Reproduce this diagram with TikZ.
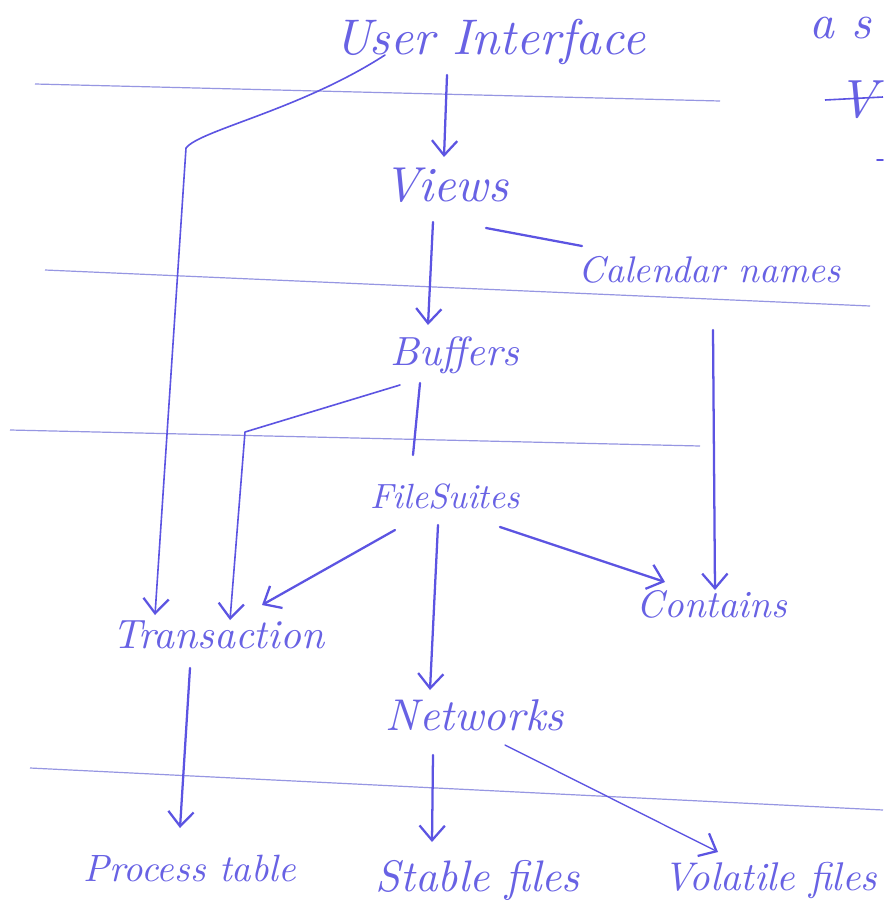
\documentclass[tikz,border=0pt]{standalone}
\usepackage{graphicx}
\usetikzlibrary{arrows.meta,calc}
\definecolor{pen}{RGB}{92,84,226}
\definecolor{ink}{RGB}{104,98,228}
\definecolor{rule}{RGB}{150,150,226}
\newlength\pxu
\setlength\pxu{0.75pt}
% handwritten-looking label, scaled to a given width
\newcommand\hw[2]{\resizebox{#1\pxu}{!}{\itshape #2}}
\tikzset{
  lbl/.style={inner sep=0pt, text=ink},
  link/.style={draw=pen, line width=1.7pt, line cap=round, line join=round},
  flow/.style={link, -{Straight Barb[length=11pt,width=19pt,line width=1.7pt]}},
  paperline/.style={draw=rule, line width=0.9pt},
}
\begin{document}
\begin{tikzpicture}[x=0.75pt,y=-0.75pt]
\useasboundingbox[fill=white] (0,0) rectangle (883,903);

% ruled lines of the sheet
\draw[paperline] (35,84) -- (720,101);
\draw[paperline] (45,270) -- (870,306);
\draw[paperline] (10,430) -- (700,446);
\draw[paperline] (30,768) -- (883,810);

% labels
\node[lbl] (ui)    at (490,42)  {\hw{310}{User Interface}};
\node[lbl] (views) at (446,185) {\hw{125}{Views}};
\node[lbl] (cal)   at (710,270) {\hw{262}{Calendar names}};
\node[lbl] (buf)   at (455,355) {\hw{128}{Buffers}};
\node[lbl] (fs)    at (445,497) {\hw{150}{FileSuites}};
\node[lbl] (trans) at (218,635) {\hw{212}{Transaction}};
\node[lbl] (cont)  at (712,604) {\hw{150}{Contains}};
\node[lbl] (net)   at (475,715) {\hw{178}{Networks}};
\node[lbl] (proc)  at (190,868) {\hw{212}{Process table}};
\node[lbl] (stab)  at (478,880) {\hw{204}{Stable files}};
\node[lbl] (vol)   at (770,880) {\hw{214}{Volatile files}};

% fragments at the right edge
\node[lbl] (as) at (840,28) {\hw{62}{a s}};
\node[lbl] (vv) at (857,100) {\hw{40}{V}};
\draw[paperline, draw=pen, line width=1.2pt] (825,100) -- (883,97);
\draw[link, line width=1.2pt] (877,160) -- (883,160);

% connectors
\draw[flow] ([shift={(-43,33)}]ui.center) -- ([shift={(-2,-28)}]views.center);
\draw[flow, line width=1.2pt] ([shift={(-105,13)}]ui.center)
  .. controls (300,110) and (200,130) .. (186,148)
  -- ([shift={(-63,-20)}]trans.center);
\draw[flow] ([shift={(-13,37)}]views.center) -- ([shift={(-27,-30)}]buf.center);
\draw[link] ([shift={(40,43)}]views.center) -- ([shift={(-128,-24)}]cal.center);
\draw[flow] ([shift={(3,60)}]cal.center) -- ([shift={(3,-14)}]cont.center);
\draw[link] ([shift={(-35,28)}]buf.center) -- ([shift={(-32,-42)}]fs.center);
\draw[flow, line width=1.2pt] ([shift={(-55,30)}]buf.center) -- (245,432)
  -- ([shift={(12,-15)}]trans.center);
\draw[flow] ([shift={(-50,33)}]fs.center) -- ([shift={(44,-30)}]trans.center);
\draw[flow] ([shift={(-7,28)}]fs.center) -- ([shift={(-45,-25)}]net.center);
\draw[flow] ([shift={(55,30)}]fs.center) -- ([shift={(-47,-22)}]cont.center);
\draw[flow] ([shift={(-28,33)}]trans.center) -- ([shift={(-10,-40)}]proc.center);
\draw[flow] ([shift={(-42,40)}]net.center) -- ([shift={(-46,-38)}]stab.center);
\draw[flow, line width=1pt] ([shift={(30,30)}]net.center) -- ([shift={(-52,-28)}]vol.center);
\end{tikzpicture}
\end{document}
